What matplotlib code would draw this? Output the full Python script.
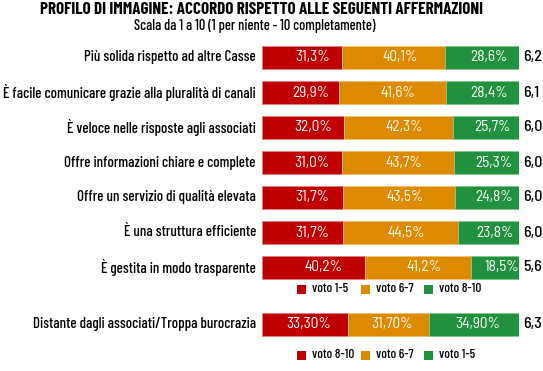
import matplotlib
matplotlib.use("Agg")
import matplotlib.pyplot as plt
from matplotlib.patches import Rectangle
from matplotlib.transforms import offset_copy

# ---- data ----
title = "PROFILO DI IMMAGINE: ACCORDO RISPETTO ALLE SEGUENTI AFFERMAZIONI"
subtitle = "Scala da 1 a 10 (1 per niente - 10 completamente)"

categories = [
    "Più solida rispetto ad altre Casse",
    "È facile comunicare grazie alla pluralità di canali",
    "È veloce nelle risposte agli associati",
    "Offre informazioni chiare e complete",
    "Offre un servizio di qualità elevata",
    "È una struttura efficiente",
    "È gestita in modo trasparente",
]
voto_1_5 = [31.3, 29.9, 32.0, 31.0, 31.7, 31.7, 40.2]
voto_6_7 = [40.1, 41.6, 42.3, 43.7, 43.5, 44.5, 41.2]
voto_8_10 = [28.6, 28.4, 25.7, 25.3, 24.8, 23.8, 18.5]
medie = ["6,2", "6,1", "6,0", "6,0", "6,0", "6,0", "5,6"]
legend1 = ["voto 1-5", "voto 6-7", "voto 8-10"]

neg_category = "Distante dagli associati/Troppa burocrazia"
neg_values = [33.30, 31.70, 34.90]
neg_labels = ["33,30%", "31,70%", "34,90%"]
neg_media = "6,3"
legend2 = ["voto 8-10", "voto 6-7", "voto 1-5"]

# ---- style ----
W, H = 543, 371
RED, ORANGE, GREEN = "#C00000", "#DE8A00", "#22913F"
EDGES = ["#E08080", "#F0C070", "#80C890"]
COLORS = [RED, ORANGE, GREEN]
FONT = "Barlow Condensed"
NUMFONT = "Barlow Semi Condensed"
BOLD = "Barlow Condensed"
MED = 500
PX = 0.72  # points per pixel at 100 dpi

fig = plt.figure(figsize=(W / 100, H / 100), dpi=100)
fig.patch.set_facecolor("white")

ov = fig.add_axes([0, 0, 1, 1])
ov.set_xlim(0, W)
ov.set_ylim(H, 0)
ov.axis("off")

bx0, bx1 = 262, 519
ax = fig.add_axes([bx0 / W, 0, (bx1 - bx0) / W, 1])
ax.set_xlim(0, 100)
ax.set_ylim(H, 0)
ax.axis("off")
ax.patch.set_alpha(0)

bar_h = 23
y_top = [57.5 + 35 * i for i in range(len(categories))]
y_neg = 324

def fmt(v):
    return f"{v:.1f}%".replace(".", ",")

series = [voto_1_5, voto_6_7, voto_8_10]
shifts_top = [10, 6, 7]
left = [0.0] * len(categories)
for s, col, ec, sh in zip(series, COLORS, EDGES, shifts_top):
    ax.barh(y_top, s, left=left, height=bar_h, color=col, edgecolor=ec, linewidth=0.7)
    tr = offset_copy(ax.transData, fig=fig, x=sh * PX, y=0, units="points")
    for y, l, v in zip(y_top, left, s):
        ax.text(l + v / 2, y, fmt(v), color="white", ha="center", va="center",
                fontsize=11, family=NUMFONT, transform=tr)
    left = [a + b for a, b in zip(left, s)]

nl = 0.0
tr2 = offset_copy(ax.transData, fig=fig, x=4 * PX, y=0, units="points")
for v, lab, col, ec in zip(neg_values, neg_labels, COLORS, EDGES):
    ax.barh([y_neg], [v], left=[nl], height=bar_h, color=col, edgecolor=ec, linewidth=0.7)
    ax.text(nl + v / 2, y_neg, lab, color="white", ha="center", va="center",
            fontsize=11, family=NUMFONT, transform=tr2)
    nl += v

for y, c, m in zip(y_top, categories, medie):
    ov.text(256, y, c, ha="right", va="center", fontsize=10.8, family=FONT,
            weight=MED, color="black")
    ov.text(523, y, m, ha="left", va="center", fontsize=11.5, family=NUMFONT,
            weight=MED, color="black")
ov.text(256, y_neg, neg_category, ha="right", va="center", fontsize=10.8, family=FONT,
        weight=MED, color="black")
ov.text(523, y_neg, neg_media, ha="left", va="center", fontsize=11.5, family=NUMFONT,
        weight=MED, color="black")

def legend(ypix, labels):
    xs = [297, 361, 424]
    for x, lab, col in zip(xs, labels, COLORS):
        ov.add_patch(Rectangle((x, ypix - 4.5), 9, 9, facecolor=col, edgecolor="none"))
        ov.text(x + 15, ypix, lab, ha="left", va="center", fontsize=9.5, family=FONT,
                weight=MED, color="black")

legend(289, legend1)
legend(355, legend2)

ov.text(261, 9.5, title, ha="center", va="center", fontsize=12.3, family=BOLD,
        weight="bold", color="black")
ov.text(255, 26, subtitle, ha="center", va="center", fontsize=10.4, family=FONT,
        weight=MED, color="black")

fig.savefig("out.png", dpi=100, facecolor="white")
